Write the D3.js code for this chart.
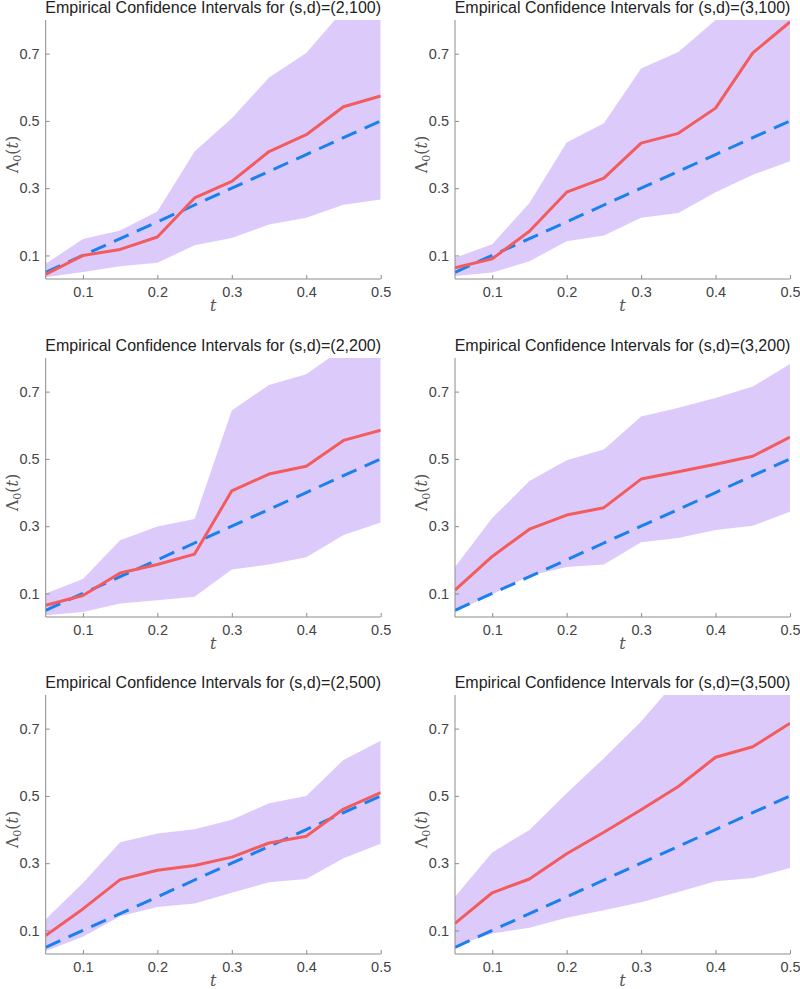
<!DOCTYPE html>
<html>
<head>
<meta charset="utf-8">
<script src="https://cdn.jsdelivr.net/npm/d3@7"></script>
<style>
  body { margin: 0; background: #fff; }
  svg { display: block; }
  .title { font-family: "Liberation Sans", Arial, sans-serif; font-size: 16px; fill: #222; }
  .tick text { font-family: "Liberation Sans", Arial, sans-serif; font-size: 14.5px; fill: #444; }
  .axis path, .axis line { stroke: #8c8c8c; }
  .lab { font-family: "DejaVu Serif", serif; font-size: 16px; fill: #555; }
</style>
</head>
<body>
<svg id="chart" width="800" height="989"></svg>
<script>
// t grid shared by all panels
const tVals = [0.05, 0.1, 0.15, 0.2, 0.25, 0.3, 0.35, 0.4, 0.45, 0.5];
const yTicks = [0.1, 0.3, 0.5, 0.7];
const xTicks = [0.1, 0.2, 0.3, 0.4, 0.5];

// (s,d) = (2,100)
const est_2_100 = [0.044, 0.100, 0.118, 0.155, 0.271, 0.320, 0.409, 0.459, 0.542, 0.574];
const lo_2_100  = [0.035, 0.051, 0.068, 0.078, 0.130, 0.152, 0.192, 0.212, 0.251, 0.266];
const hi_2_100  = [0.075, 0.149, 0.174, 0.231, 0.409, 0.508, 0.629, 0.702, 0.83, 0.90];

// (s,d) = (3,100)
const est_3_100 = [0.063, 0.090, 0.172, 0.288, 0.330, 0.434, 0.463, 0.538, 0.702, 0.794];
const lo_3_100  = [0.039, 0.049, 0.083, 0.142, 0.159, 0.212, 0.226, 0.288, 0.340, 0.380];
const hi_3_100  = [0.093, 0.133, 0.256, 0.436, 0.493, 0.656, 0.705, 0.80, 0.90, 0.95];

// (s,d) = (2,200)
const est_2_200 = [0.065, 0.094, 0.161, 0.186, 0.217, 0.405, 0.455, 0.478, 0.555, 0.585];
const lo_2_200  = [0.035, 0.045, 0.070, 0.080, 0.090, 0.171, 0.186, 0.208, 0.274, 0.311];
const hi_2_200  = [0.100, 0.143, 0.258, 0.299, 0.321, 0.644, 0.720, 0.752, 0.83, 0.90];

// (s,d) = (3,200)
const est_3_200 = [0.110, 0.210, 0.291, 0.333, 0.355, 0.440, 0.462, 0.484, 0.508, 0.565];
const lo_3_200  = [0.046, 0.097, 0.153, 0.179, 0.186, 0.252, 0.265, 0.289, 0.301, 0.343];
const hi_3_200  = [0.179, 0.324, 0.434, 0.496, 0.528, 0.626, 0.652, 0.681, 0.715, 0.782];

// (s,d) = (2,500)
const est_2_500 = [0.085, 0.164, 0.251, 0.279, 0.293, 0.318, 0.360, 0.380, 0.461, 0.510];
const lo_2_500  = [0.039, 0.081, 0.142, 0.170, 0.180, 0.212, 0.243, 0.253, 0.315, 0.358];
const hi_2_500  = [0.133, 0.241, 0.362, 0.388, 0.401, 0.429, 0.478, 0.500, 0.607, 0.664];

// (s,d) = (3,500)
const est_3_500 = [0.121, 0.212, 0.253, 0.328, 0.392, 0.459, 0.528, 0.615, 0.646, 0.716];
const lo_3_500  = [0.054, 0.091, 0.108, 0.138, 0.160, 0.184, 0.214, 0.246, 0.256, 0.286];
const hi_3_500  = [0.200, 0.332, 0.399, 0.508, 0.612, 0.721, 0.85, 0.93, 1.00, 1.10];

const panels = [
    { name: "(2,100)", est: est_2_100, lo: lo_2_100, hi: hi_2_100 },
    { name: "(3,100)", est: est_3_100, lo: lo_3_100, hi: hi_3_100 },
    { name: "(2,200)", est: est_2_200, lo: lo_2_200, hi: hi_2_200 },
    { name: "(3,200)", est: est_3_200, lo: lo_3_200, hi: hi_3_200 },
    { name: "(2,500)", est: est_2_500, lo: lo_2_500, hi: hi_2_500 },
    { name: "(3,500)", est: est_3_500, lo: lo_3_500, hi: hi_3_500 }
];

const colLeft = [45.7, 455];
const plotW = 335;
const rowTop = [20, 358, 695];
const plotH = 259;

const svg = d3.select("#chart");

panels.forEach(function (p, i) {
    let col = i % 2, row = Math.floor(i / 2);
    let g = svg.append("g")
        .attr("transform", "translate(" + colLeft[col] + "," + rowTop[row] + ")");

    let x = d3.scaleLinear().domain([0.05, 0.5]).range([0, plotW]);
    let y = d3.scaleLinear().domain([0.03, 0.8]).range([plotH, 0]);

    let clipId = "clip" + i;
    g.append("clipPath").attr("id", clipId)
        .append("rect").attr("width", plotW).attr("height", plotH);

    let plot = g.append("g").attr("clip-path", "url(#" + clipId + ")");

    let area = d3.area()
        .x((d, j) => x(tVals[j]))
        .y0((d, j) => y(p.lo[j]))
        .y1((d, j) => y(p.hi[j]));

    plot.append("path")
        .datum(tVals)
        .attr("d", area)
        .attr("fill", "#dccbfa");

    let line = d3.line().x(d => x(d[0])).y(d => y(d[1]));

    // true cumulative hazard: Lambda0(t) = t
    plot.append("path")
        .datum(tVals.map(t => [t, t]))
        .attr("d", line)
        .attr("fill", "none")
        .attr("stroke", "#1a80f0")
        .attr("stroke-width", 3)
        .attr("stroke-dasharray", "16,9");

    plot.append("path")
        .datum(tVals.map((t, j) => [t, p.est[j]]))
        .attr("d", line)
        .attr("fill", "none")
        .attr("stroke", "#f25c5e")
        .attr("stroke-width", 3)
        .attr("stroke-linejoin", "round");

    // axes (MATLAB style: ticks inward, box off)
    g.append("g").attr("class", "axis")
        .attr("transform", "translate(0," + plotH + ")")
        .call(d3.axisBottom(x).tickValues(xTicks).tickSize(-4).tickPadding(8)
            .tickFormat(d3.format(".1f")))
        .call(a => a.select(".domain").attr("d", "M0,0H" + plotW));

    g.append("g").attr("class", "axis")
        .call(d3.axisLeft(y).tickValues(yTicks).tickSize(-4).tickPadding(6)
            .tickFormat(d3.format(".1f")))
        .call(a => a.select(".domain").attr("d", "M0,0V" + plotH));

    g.append("text").attr("class", "title")
        .attr("x", plotW / 2).attr("y", -7)
        .attr("text-anchor", "middle")
        .text("Empirical Confidence Intervals for (s,d)=" + p.name);

    g.append("text").attr("class", "lab")
        .attr("x", plotW / 2).attr("y", plotH + 32)
        .attr("text-anchor", "middle")
        .attr("font-style", "italic")
        .text("t");

    let yl = g.append("text").attr("class", "lab")
        .attr("transform", "translate(-28," + (plotH / 2 + 5) + ") rotate(-90)")
        .attr("text-anchor", "middle");
    yl.append("tspan").text("Λ");
    yl.append("tspan").attr("font-size", "11px").attr("dy", 3).text("0");
    yl.append("tspan").attr("dy", -3).text("(");
    yl.append("tspan").attr("font-style", "italic").text("t");
    yl.append("tspan").text(")");
});
</script>
</body>
</html>
